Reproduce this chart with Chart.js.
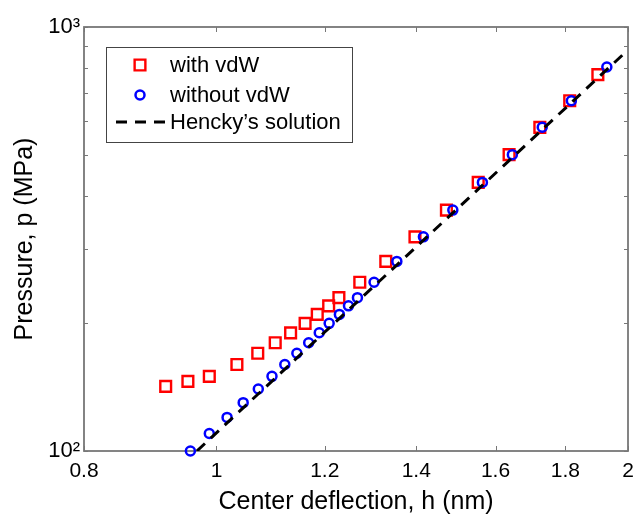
<!DOCTYPE html>
<html>
<head>
<meta charset="utf-8">
<title>Pressure vs center deflection</title>
<script src="https://cdn.jsdelivr.net/npm/chart.js@4.4.0/dist/chart.umd.min.js"></script>
<style>
  html, body { margin: 0; padding: 0; background: #fff; }
  #wrap { position: relative; width: 644px; height: 517px; }
</style>
</head>
<body>
<div id="wrap"><canvas id="chart"></canvas></div>
<script>
// values (log-log axes)
const withVdwH = [0.918, 0.953, 0.988, 1.035, 1.072, 1.104, 1.133, 1.161, 1.185, 1.208,
                  1.229, 1.273, 1.330, 1.397, 1.473, 1.554, 1.637, 1.724, 1.813, 1.901];
const withVdwP = [142, 146, 150, 160, 170, 180, 190, 200, 210, 220,
                  230, 250, 280, 320, 370, 430, 500, 580, 670, 772];

const withoutVdwH = [0.957, 0.988, 1.018, 1.046, 1.073, 1.098, 1.122, 1.145, 1.168, 1.189,
                     1.209, 1.230, 1.249, 1.268, 1.304, 1.355, 1.417, 1.489, 1.565, 1.646,
                     1.731, 1.818, 1.930];
const withoutVdwP = [100, 110, 120, 130, 140, 150, 160, 170, 180, 190,
                     200, 210, 220, 230, 250, 280, 320, 370, 430, 500,
                     580, 670, 805];

const henckyH = [0.9675, 2.0];
const henckyP = [100, 883];

const xTicks = [0.8, 1, 1.2, 1.4, 1.6, 1.8, 2];
const xTickLabels = ['0.8', '1', '1.2', '1.4', '1.6', '1.8', '2'];
const yTicks = [100, 200, 300, 400, 500, 600, 700, 800, 900, 1000];
const yTickLabels = ['10\u00B2', '', '', '', '', '', '', '', '', '10\u00B3'];

const FONT = "'Liberation Sans', Arial, sans-serif";

function toPoints(xs, ys) {
    return xs.map((x, i) => ({ x: x, y: ys[i] }));
}

// ========================================
// AXES BOX + INWARD TICKS + LEGEND
// ========================================
const frame = {
    id: 'frame',
    beforeDatasetsDraw(chart) {
        const { ctx, chartArea: a, scales } = chart;
        ctx.save();
        ctx.strokeStyle = '#777';
        ctx.lineWidth = 1;
        ctx.beginPath();
        xTicks.forEach(v => {
            const px = Math.round(scales.x.getPixelForValue(v)) + 0.5;
            ctx.moveTo(px, a.bottom); ctx.lineTo(px, a.bottom - 5);
            ctx.moveTo(px, a.top); ctx.lineTo(px, a.top + 5);
        });
        yTicks.forEach(v => {
            const py = Math.round(scales.y.getPixelForValue(v)) + 0.5;
            ctx.moveTo(a.left, py); ctx.lineTo(a.left + 4, py);
            ctx.moveTo(a.right, py); ctx.lineTo(a.right - 4, py);
        });
        ctx.stroke();
        ctx.lineWidth = 1.8;
        ctx.strokeRect(a.left, a.top, a.right - a.left, a.bottom - a.top);
        ctx.restore();
    },
    afterDraw(chart) {
        const ctx = chart.ctx;
        const ds = chart.data.datasets;
        ctx.save();
        ctx.fillStyle = '#fff';
        ctx.fillRect(106, 47, 246, 95);
        ctx.strokeStyle = '#444';
        ctx.lineWidth = 1;
        ctx.strokeRect(106.5, 47.5, 246, 95);

        const rows = [65, 95, 122];
        ctx.font = '22px ' + FONT;
        ctx.textBaseline = 'middle';
        ds.forEach((d, i) => {
            const y = rows[i];
            ctx.strokeStyle = d.borderColor;
            if (d.showLine) {
                ctx.lineWidth = d.borderWidth;
                ctx.setLineDash(d.borderDash);
                ctx.beginPath();
                ctx.moveTo(116, y); ctx.lineTo(165, y);
                ctx.stroke();
                ctx.setLineDash([]);
            } else {
                ctx.lineWidth = d.pointBorderWidth;
                ctx.fillStyle = 'rgba(0,0,0,0)';
                Chart.helpers.drawPoint(ctx, {
                    pointStyle: d.pointStyle,
                    radius: d.pointRadius,
                    borderWidth: d.pointBorderWidth,
                    rotation: 0
                }, 140, y);
            }
            ctx.fillStyle = '#000';
            ctx.fillText(d.label, 170, y + 1);
        });
        ctx.restore();
    }
};

new Chart(document.getElementById('chart'), {
    type: 'scatter',
    data: {
        datasets: [{
            label: 'with vdW',
            data: toPoints(withVdwH, withVdwP),
            pointStyle: 'rect',
            pointRadius: 7.6,
            borderColor: '#ff0000',
            pointBorderColor: '#ff0000',
            pointBackgroundColor: 'rgba(0,0,0,0)',
            pointBorderWidth: 2.4,
            clip: false,
            order: 3
        }, {
            label: 'without vdW',
            data: toPoints(withoutVdwH, withoutVdwP),
            pointStyle: 'circle',
            pointRadius: 4.5,
            borderColor: '#0000ff',
            pointBorderColor: '#0000ff',
            pointBackgroundColor: 'rgba(0,0,0,0)',
            pointBorderWidth: 2.5,
            clip: false,
            order: 2
        }, {
            label: 'Hencky\u2019s solution',
            data: toPoints(henckyH, henckyP),
            showLine: true,
            pointRadius: 0,
            borderColor: '#000',
            borderWidth: 3,
            borderDash: [11, 8],
            fill: false,
            order: 1
        }]
    },
    options: {
        responsive: true,
        maintainAspectRatio: false,
        animation: false,
        layout: { padding: { top: 27, right: 16, left: 0, bottom: 0 } },
        plugins: {
            legend: { display: false },
            tooltip: { enabled: false }
        },
        scales: {
            x: {
                type: 'logarithmic',
                min: 0.8,
                max: 2,
                afterBuildTicks: scale => { scale.ticks = xTicks.map(v => ({ value: v })); },
                afterFit: scale => { scale.height = 66; },
                grid: { display: false, drawTicks: false },
                border: { display: false },
                ticks: {
                    color: '#000',
                    font: { family: FONT, size: 21 },
                    padding: 8,
                    maxRotation: 0,
                    autoSkip: false,
                    callback: (v, i) => xTickLabels[i]
                },
                title: {
                    display: true,
                    text: 'Center deflection, h (nm)',
                    color: '#000',
                    font: { family: FONT, size: 25 },
                    padding: { top: -2, bottom: 0 }
                }
            },
            y: {
                type: 'logarithmic',
                min: 100,
                max: 1000,
                afterBuildTicks: scale => { scale.ticks = yTicks.map(v => ({ value: v })); },
                afterFit: scale => { scale.width = 84; },
                grid: { display: false, drawTicks: false },
                border: { display: false },
                ticks: {
                    color: '#000',
                    font: { family: FONT, size: 22 },
                    padding: 4,
                    autoSkip: false,
                    callback: (v, i) => yTickLabels[i]
                },
                title: {
                    display: true,
                    text: 'Pressure, p (MPa)',
                    color: '#000',
                    font: { family: FONT, size: 25 },
                    padding: { top: 10, bottom: 0 }
                }
            }
        }
    },
    plugins: [frame]
});
</script>
</body>
</html>
